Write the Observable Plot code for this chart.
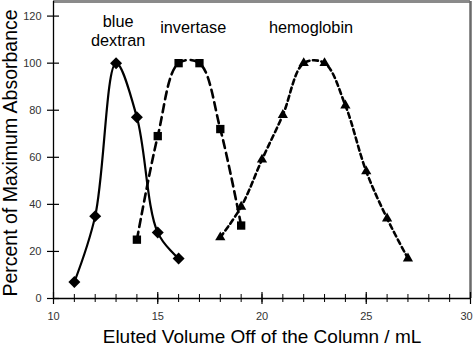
<!DOCTYPE html>
<html>
<head>
<meta charset="utf-8">
<script src="https://cdn.jsdelivr.net/npm/d3@7"></script>
<script src="https://cdn.jsdelivr.net/npm/@observablehq/plot@0.6"></script>
<style>
  html, body { margin: 0; padding: 0; background: #fff; }
  #chart svg { display: block; }
</style>
</head>
<body>
<div id="chart"></div>
<script>
// Data
const dextranX = [11, 12, 13, 14, 15, 16];
const dextranY = [7, 35, 100, 77, 28, 17];
const invertaseX = [14, 15, 16, 17, 18, 19];
const invertaseY = [25, 69, 100, 100, 72, 31];
const hemoglobinX = [18, 19, 20, 21, 22, 23, 24, 25, 26, 27];
const hemoglobinY = [26, 39, 59, 78, 100, 100, 82, 54, 34, 17];

const xMajorTicks = [10, 15, 20, 25, 30];
const xMinorTicks = d3.range(10, 31, 1);
const yTicks = [0, 20, 40, 60, 80, 100, 120];

const labelText = ["blue\ndextran", "invertase", "hemoglobin"];
const labelX = [13.1, 16.7, 22.35];
const labelY = [114, 115.5, 115.5];

const xMin = 10, xMax = 30, yMin = 0, yMax = 126.2;

const rows = (xs, ys) => xs.map((x, i) => ({x, y: ys[i]}));
const dextran = rows(dextranX, dextranY);
const invertase = rows(invertaseX, invertaseY);
const hemoglobin = rows(hemoglobinX, hemoglobinY);
const labels = labelText.map((t, i) => ({t, x: labelX[i], y: labelY[i]}));

const font = "'Liberation Sans', Arial, Helvetica, sans-serif";
const tickStyle = {tickSize: 0, tickPadding: 14, fontSize: 11, color: "#333", tickFormat: d => d, label: null};

const chart = Plot.plot({
  width: 474,
  height: 352,
  marginLeft: 53,
  marginRight: 4,
  marginTop: 1,
  marginBottom: 54,
  style: {fontFamily: font, background: "#fff"},
  x: {domain: [xMin, xMax]},
  y: {domain: [yMin, yMax]},
  marks: [
    // frame (top and right, gray)
    Plot.ruleY([yMax], {stroke: "#8a8a8a", strokeWidth: 3}),
    Plot.ruleX([xMax], {stroke: "#6a6a6a", strokeWidth: 2.5}),
    // axis lines
    Plot.ruleX([xMin], {stroke: "#000", strokeWidth: 1.3}),
    Plot.ruleY([yMin], {stroke: "#000", strokeWidth: 1.3}),
    // x ticks crossing the axis
    Plot.ruleX(xMinorTicks, {x: d => d, y1: yMin, y2: yMin, insetTop: 4, insetBottom: 4, stroke: "#000", strokeWidth: 1}),
    Plot.ruleX(xMajorTicks, {x: d => d, y1: yMin, y2: yMin, insetTop: 6, insetBottom: 6, stroke: "#000", strokeWidth: 1.2}),
    // y ticks crossing the axis
    Plot.ruleY(yTicks, {y: d => d, x1: xMin, x2: xMin, insetLeft: -6, insetRight: -6, stroke: "#000", strokeWidth: 1.2}),
    // tick labels
    Plot.axisX({...tickStyle, ticks: xMajorTicks.filter(d => d < xMax)}),
    Plot.axisX({...tickStyle, ticks: xMajorTicks.filter(d => d === xMax), dx: -4}),
    Plot.axisY({ticks: yTicks, tickSize: 0, tickPadding: 12, fontSize: 11, color: "#333", tickFormat: d => d, label: null}),
    // curves
    Plot.line(dextran, {x: "x", y: "y", curve: "catmull-rom", stroke: "#000", strokeWidth: 2.2}),
    Plot.line(invertase, {x: "x", y: "y", curve: "catmull-rom", stroke: "#000", strokeWidth: 2.6, strokeDasharray: "8,5"}),
    Plot.line(hemoglobin, {x: "x", y: "y", curve: "catmull-rom", stroke: "#000", strokeWidth: 2.6, strokeDasharray: "5,3.5"}),
    // markers
    Plot.dot(dextran, {x: "x", y: "y", symbol: "diamond2", r: 5.4, fill: "#000", stroke: "none"}),
    Plot.dot(invertase, {x: "x", y: "y", symbol: "square", r: 4.7, fill: "#000", stroke: "none"}),
    Plot.dot(hemoglobin, {x: "x", y: "y", symbol: "triangle", r: 3.8, fill: "#000", stroke: "none"}),
    // series labels
    Plot.text(labels, {x: "x", y: "y", text: "t", fontSize: 16.3, fill: "#000", lineHeight: 1.15}),
    // axis titles
    Plot.text(["Eluted Volume Off of the Column / mL"], {frameAnchor: "bottom", textAnchor: "middle", dy: 44, fontSize: 19, fill: "#000"}),
    Plot.text(["Percent of Maximum Absorbance"], {frameAnchor: "left", textAnchor: "middle", rotate: -90, dx: -43, dy: 3, fontSize: 19.5, fill: "#000"})
  ]
});

document.getElementById("chart").appendChild(chart);
</script>
</body>
</html>
